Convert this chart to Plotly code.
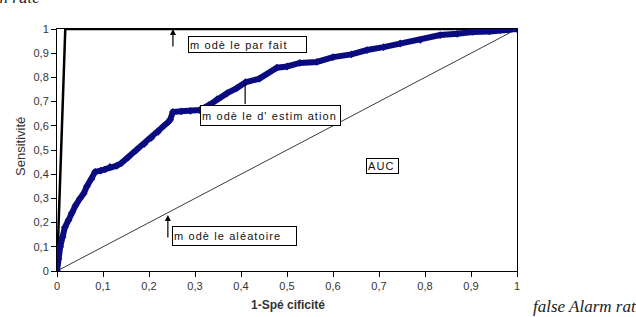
import plotly.graph_objects as go

# ROC curve of the estimation model
fpr = [0, 0.003, 0.007, 0.012, 0.017, 0.025, 0.032, 0.04, 0.05, 0.058, 0.065, 0.075, 0.083,
       0.095, 0.105, 0.115, 0.13, 0.14, 0.155, 0.173, 0.19, 0.205, 0.22, 0.232, 0.242, 0.246,
       0.252, 0.27, 0.29, 0.31, 0.33, 0.348, 0.37, 0.39, 0.41, 0.44, 0.478, 0.5, 0.528, 0.565,
       0.6, 0.64, 0.674, 0.71, 0.746, 0.79, 0.833, 0.87, 0.904, 0.94, 0.963, 0.98, 1.0]
tpr = [0, 0.05, 0.1, 0.14, 0.18, 0.21, 0.24, 0.27, 0.30, 0.32, 0.35, 0.38, 0.41,
       0.415, 0.42, 0.43, 0.435, 0.446, 0.47, 0.5, 0.525, 0.55, 0.575, 0.6, 0.616, 0.625,
       0.657, 0.66, 0.662, 0.665, 0.685, 0.71, 0.735, 0.755, 0.78, 0.795, 0.84, 0.845, 0.86, 0.864,
       0.884, 0.895, 0.913, 0.925, 0.94, 0.955, 0.975, 0.98, 0.988, 0.99, 0.996, 0.998, 1.0]

perfect_x = [0, 0.018, 1]
perfect_y = [0, 1, 1]
random_x = [0, 1]
random_y = [0, 1]

tick_vals = [0, 0.1, 0.2, 0.3, 0.4, 0.5, 0.6, 0.7, 0.8, 0.9, 1]
tick_text = ["0", "0,1", "0,2", "0,3", "0,4", "0,5", "0,6", "0,7", "0,8", "0,9", "1"]

FONT = "Liberation Sans, Arial, sans-serif"
SERIF = "Liberation Serif, Times New Roman, serif"

# plot area in pixels: x 57..517, y 29..271
def px(xp):
    return (xp - 57) / 460

def py(yp):
    return (271 - yp) / 242

fig = go.Figure()
fig.add_trace(go.Scatter(x=random_x, y=random_y, mode="lines",
                         line=dict(color="#3a3a3a", width=1), hoverinfo="skip"))
fig.add_trace(go.Scatter(x=perfect_x, y=perfect_y, mode="lines",
                         line=dict(color="#000000", width=2.5), hoverinfo="skip"))
fig.add_trace(go.Scatter(x=fpr, y=tpr, mode="lines+markers",
                         line=dict(color="#0b0b80", width=6),
                         marker=dict(color="#0b0b80", size=6, symbol="diamond")))

def box(text, x, y, w, h):
    fig.add_annotation(x=x, y=y, xref="x", yref="y", xanchor="left", yanchor="top",
                       text='<span style="letter-spacing:1.1px">' + text + "</span>",
                       showarrow=False, align="left", width=w, height=h,
                       valign="middle", bordercolor="#000", borderwidth=1, borderpad=1,
                       bgcolor="white", font=dict(family=FONT, size=11, color="#111"))

box("m odè le par fait", 0.285, 0.971, 115, 13)
box("m odè le d' estim ation", 0.311, 0.686, 137, 17)
box("m odè le aléatoire", 0.250, 0.186, 121, 16)
box("AUC", 0.672, 0.467, 29, 12)

# arrows / pointer lines
fig.add_annotation(x=0.252, y=1.0, ax=0.252, ay=0.921, xref="x", yref="y", axref="x", ayref="y",
                   showarrow=True, arrowhead=2, arrowsize=1, arrowwidth=1.2, arrowcolor="#000", text="")
fig.add_annotation(x=0.241, y=0.231, ax=0.241, ay=0.132, xref="x", yref="y", axref="x", ayref="y",
                   showarrow=True, arrowhead=2, arrowsize=1, arrowwidth=1.2, arrowcolor="#000", text="")
fig.add_annotation(x=0.409, y=0.777, ax=0.409, ay=0.684, xref="x", yref="y", axref="x", ayref="y",
                   showarrow=True, arrowhead=0, arrowwidth=1.2, arrowcolor="#000", text="")

# axis titles
fig.add_annotation(x=px(20), y=py(147), xref="paper", yref="paper", textangle=-90,
                   xanchor="center", yanchor="middle",
                   text="Sensitivité", showarrow=False,
                   font=dict(family=FONT, size=13, color="#333"))
fig.add_annotation(x=px(288), y=py(305), xref="paper", yref="paper",
                   xanchor="center", yanchor="middle",
                   text="<b>1-Spé cificité</b>", showarrow=False,
                   font=dict(family=FONT, size=12, color="#333"))

# cropped outer labels
fig.add_annotation(x=px(42), y=py(-3), xref="paper", yref="paper", xanchor="right", yanchor="middle",
                   text="<i>Detection rate</i>", showarrow=False,
                   font=dict(family=SERIF, size=17, color="#222"))
fig.add_annotation(x=px(531), y=py(306), xref="paper", yref="paper",
                   xanchor="left", yanchor="middle", text="<i>false Alarm rate</i>", showarrow=False,
                   font=dict(family=SERIF, size=17, color="#222"))

axis_common = dict(range=[0, 1], tickvals=tick_vals, ticktext=tick_text, showgrid=False,
                   zeroline=False, showline=True, linecolor="#000", linewidth=1, mirror=True,
                   ticks="outside", ticklen=5, tickcolor="#000", automargin=False,
                   tickfont=dict(family=FONT, size=11, color="#333"))

fig.update_layout(
    width=636, height=317, margin=dict(l=57, r=119, t=29, b=46),
    paper_bgcolor="white", plot_bgcolor="white", showlegend=False,
    xaxis=dict(**axis_common),
    yaxis=dict(**axis_common),
)
fig.write_html("out.html")
